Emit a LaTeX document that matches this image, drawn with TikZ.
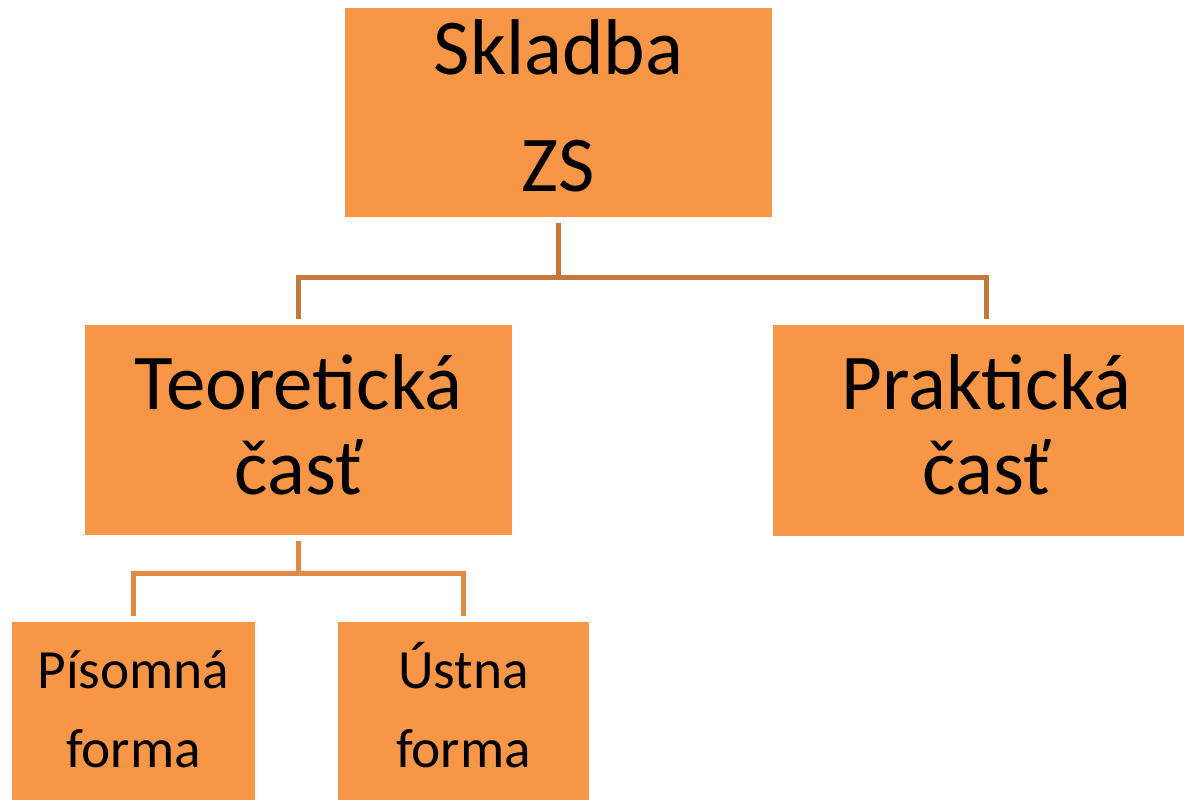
\documentclass[tikz,border=0pt]{standalone}
\usepackage{fontspec}
\setmainfont{Carlito}
\definecolor{boxfill}{HTML}{F79646}
\definecolor{topline}{HTML}{C5783A}
\definecolor{lowline}{HTML}{E08A47}
\begin{document}
\begin{tikzpicture}[x=0.02cm,y=-0.02cm,
  box/.style={fill=boxfill, inner sep=0pt, align=center, text depth=0pt, text height=2.58cm, font=\fontsize{45}{48.4}\selectfont},
  smallbox/.style={box, text height=2.28cm, font=\fontsize{31.5}{45.5}\selectfont},
  conn/.style={line width=0.1cm, line join=miter, shorten <=0.12cm, shorten >=0.12cm}]

\useasboundingbox (0,0) rectangle (1184,800);
\clip (0,0) rectangle (1184,800);

%draw the boxes
\node [box, minimum width=427*0.02cm, minimum height=209*0.02cm, text height=3.18cm, font=\fontsize{45}{66.6}\selectfont] (skladba) at (558.5,112.5) {Skladba\\ZS};
\node [box, minimum width=427*0.02cm, minimum height=210*0.02cm] (teor) at (298.5,430) {Teoretická\\časť};
\node [box, minimum width=427*0.02cm, minimum height=211*0.02cm] (prakt) at (986.5,430.5) {Praktická\\časť};
\node [smallbox, minimum width=243*0.02cm, minimum height=178*0.02cm] (pis) at (133.5,711) {Písomná\\forma};
\node [smallbox, minimum width=251*0.02cm, minimum height=178*0.02cm] (ust) at (463.5,711) {Ústna\\forma};

%draw the connectors
\foreach \n in {teor,prakt} \draw [conn, draw=topline] (skladba.south) -- ++(0,60) -| (\n.north);
\foreach \n in {pis,ust} \draw [conn, draw=lowline] (teor.south) -- ++(0,38) -| (\n.north);

\end{tikzpicture}
\end{document}
